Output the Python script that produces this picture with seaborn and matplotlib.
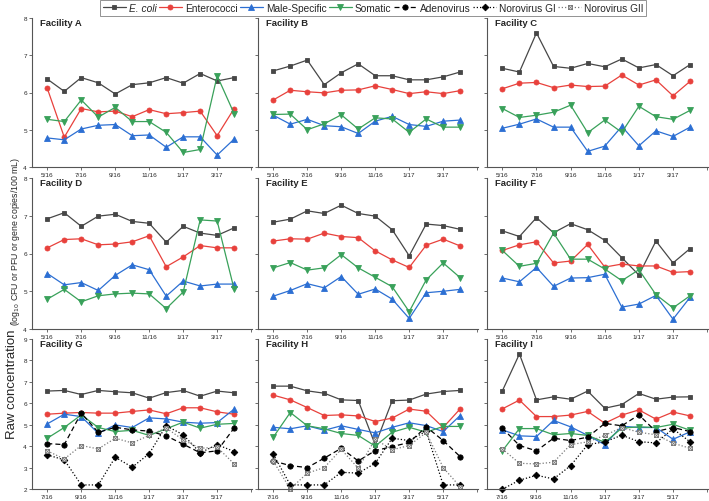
import matplotlib
matplotlib.use("Agg")
import matplotlib.pyplot as plt
import seaborn as sns
import pandas as pd
from matplotlib.path import Path

# ---------------- data ----------------
months_top = ['5/16', '6/16', '7/16', '8/16', '9/16', '10/16', '11/16', '12/16', '1/17', '2/17', '3/17', '4/17']
months_bottom = ['7/16', '8/16', '9/16', '10/16', '11/16', '12/16', '1/17', '2/17', '3/17', '4/17', '5/17', '6/17']
series_names = ['E. coli', 'Enterococci', 'Male-Specific', 'Somatic', 'Adenovirus', 'Norovirus GI', 'Norovirus GII']

# Facility A
A_ecoli = [6.36, 6.03, 6.40, 6.26, 5.96, 6.21, 6.26, 6.40, 6.25, 6.51, 6.31, 6.40]
A_entero = [6.11, 4.80, 5.57, 5.48, 5.50, 5.35, 5.54, 5.43, 5.46, 5.50, 4.84, 5.57]
A_male = [4.78, 4.73, 5.02, 5.12, 5.14, 4.84, 4.86, 4.53, 4.81, 4.81, 4.32, 4.75]
A_somatic = [5.28, 5.22, 5.80, 5.34, 5.60, 5.22, 5.22, 4.93, 4.39, 4.47, 6.45, 5.43]
# Facility B
B_ecoli = [6.58, 6.71, 6.87, 6.21, 6.53, 6.77, 6.45, 6.45, 6.34, 6.34, 6.42, 6.55]
B_entero = [5.80, 6.06, 6.02, 5.99, 6.06, 6.07, 6.18, 6.08, 5.97, 6.02, 5.97, 6.05]
B_male = [5.39, 5.15, 5.28, 5.11, 5.08, 4.90, 5.23, 5.36, 5.14, 5.09, 5.23, 5.26]
B_somatic = [5.41, 5.42, 5.00, 5.16, 5.40, 5.02, 5.32, 5.29, 4.93, 5.29, 5.07, 5.07]
# Facility C
C_ecoli = [6.65, 6.55, 7.60, 6.70, 6.65, 6.78, 6.69, 6.90, 6.66, 6.75, 6.45, 6.75]
C_entero = [6.10, 6.25, 6.27, 6.13, 6.20, 6.16, 6.17, 6.47, 6.20, 6.34, 5.91, 6.30]
C_male = [5.04, 5.15, 5.29, 5.07, 5.07, 4.42, 4.56, 5.09, 4.57, 4.97, 4.82, 5.07]
C_somatic = [5.57, 5.33, 5.39, 5.47, 5.66, 4.92, 5.26, 4.93, 5.63, 5.35, 5.28, 5.52]
# Facility D
D_ecoli = [6.92, 7.08, 6.72, 6.99, 7.04, 6.85, 6.80, 6.30, 6.72, 6.54, 6.48, 6.68]
D_entero = [6.15, 6.37, 6.39, 6.23, 6.25, 6.31, 6.47, 5.65, 5.91, 6.21, 6.15, 6.15]
D_male = [5.47, 5.17, 5.23, 5.02, 5.42, 5.70, 5.57, 4.87, 5.27, 5.14, 5.19, 5.19]
D_somatic = [4.79, 5.05, 4.72, 4.88, 4.93, 4.95, 4.93, 4.54, 4.98, 6.89, 6.86, 5.05]
# Facility E
E_ecoli = [6.83, 6.91, 7.13, 7.06, 7.28, 7.06, 6.99, 6.63, 5.94, 6.78, 6.74, 6.64]
E_entero = [6.33, 6.39, 6.38, 6.54, 6.45, 6.42, 6.07, 5.83, 5.63, 6.22, 6.38, 6.20]
E_male = [4.87, 5.02, 5.20, 5.09, 5.39, 4.92, 5.06, 4.79, 4.28, 4.96, 5.00, 5.05]
E_somatic = [5.62, 5.76, 5.56, 5.62, 5.97, 5.62, 5.37, 5.12, 4.46, 5.30, 5.75, 5.36]
# Facility F
F_ecoli = [6.60, 6.45, 6.95, 6.55, 6.79, 6.63, 6.35, 5.89, 5.43, 6.33, 5.75, 6.13]
F_entero = [6.08, 6.23, 6.31, 5.75, 5.80, 6.24, 5.64, 5.72, 5.67, 5.67, 5.50, 5.52]
F_male = [5.35, 5.25, 5.63, 5.13, 5.35, 5.36, 5.45, 4.58, 4.66, 4.89, 4.26, 4.84]
F_somatic = [6.08, 5.66, 5.74, 6.54, 5.85, 5.85, 5.59, 5.28, 5.57, 4.91, 4.56, 4.88]
# Facility G
G_ecoli = [6.57, 6.60, 6.41, 6.60, 6.54, 6.49, 6.24, 6.50, 6.60, 6.33, 6.57, 6.49]
G_entero = [5.49, 5.54, 5.57, 5.54, 5.54, 5.62, 5.69, 5.51, 5.79, 5.79, 5.60, 5.49]
G_male = [5.04, 5.49, 5.38, 4.60, 4.99, 4.87, 5.32, 5.27, 5.12, 5.07, 5.10, 5.73]
G_somatic = [4.37, 4.87, 5.46, 4.87, 4.68, 4.74, 4.50, 4.81, 5.12, 4.84, 5.02, 5.06]
G_adeno = [4.12, 4.07, 5.55, 4.64, 4.88, 4.76, 4.70, 4.48, 4.09, 3.69, 3.78, 4.85]
G_norogi = [3.59, 3.36, 2.19, 2.19, 3.48, 3.02, 3.65, 4.95, 4.53, 3.69, 4.07, 3.75]
G_norogii = [3.78, 3.40, 4.03, 3.87, 4.37, 4.15, 4.50, 4.85, 4.29, 3.90, 3.95, 3.17]
# Facility H
H_ecoli = [6.80, 6.80, 6.58, 6.47, 6.16, 6.13, 4.06, 6.12, 6.15, 6.43, 6.55, 6.60]
H_entero = [6.38, 6.16, 5.80, 5.43, 5.46, 5.41, 5.15, 5.31, 5.73, 5.63, 4.87, 5.74]
H_male = [4.88, 4.81, 4.95, 4.74, 4.95, 4.78, 4.62, 4.88, 5.09, 4.96, 4.68, 5.43]
H_somatic = [4.42, 5.57, 4.95, 4.81, 4.59, 4.50, 4.00, 4.65, 4.88, 4.65, 4.92, 4.92]
H_adeno = [3.31, 3.09, 3.00, 3.44, 3.90, 3.31, 3.79, 3.98, 4.17, 4.90, 4.26, 3.51]
H_norogi = [3.62, 2.19, 2.19, 2.19, 2.78, 2.74, 3.20, 4.37, 4.26, 4.70, 2.19, 2.19]
H_norogii = [3.30, 2.00, 2.74, 3.00, 3.85, 2.97, 4.32, 3.83, 4.03, 4.64, 3.00, 2.10]
# Facility I
I_ecoli = [6.58, 8.30, 6.16, 6.30, 6.19, 6.57, 5.77, 5.94, 6.46, 6.19, 6.29, 6.30]
I_entero = [5.74, 6.15, 5.38, 5.38, 5.45, 5.62, 5.07, 5.45, 5.69, 5.26, 5.59, 5.41]
I_male = [4.76, 4.48, 4.45, 5.20, 4.90, 4.50, 4.07, 4.93, 4.87, 4.87, 4.32, 4.67]
I_somatic = [3.78, 4.82, 4.82, 4.53, 4.59, 4.50, 4.18, 4.84, 4.90, 4.87, 5.02, 4.74]
I_adeno = [4.84, 4.03, 3.78, 4.37, 4.26, 4.42, 5.06, 4.95, 5.46, 4.68, 4.87, 4.68]
I_norogi = [1.99, 2.41, 2.64, 2.47, 3.09, 4.07, 4.20, 4.51, 4.21, 4.15, 4.81, 4.20]
I_norogii = [3.87, 3.20, 3.17, 3.25, 4.07, 4.20, 4.50, 4.87, 4.65, 4.53, 4.14, 3.90]

facilities = {
    'A': [A_ecoli, A_entero, A_male, A_somatic],
    'B': [B_ecoli, B_entero, B_male, B_somatic],
    'C': [C_ecoli, C_entero, C_male, C_somatic],
    'D': [D_ecoli, D_entero, D_male, D_somatic],
    'E': [E_ecoli, E_entero, E_male, E_somatic],
    'F': [F_ecoli, F_entero, F_male, F_somatic],
    'G': [G_ecoli, G_entero, G_male, G_somatic, G_adeno, G_norogi, G_norogii],
    'H': [H_ecoli, H_entero, H_male, H_somatic, H_adeno, H_norogi, H_norogii],
    'I': [I_ecoli, I_entero, I_male, I_somatic, I_adeno, I_norogi, I_norogii],
}

# ---------------- style ----------------
sns.set_style("ticks")
plt.rcParams['font.family'] = ['Liberation Sans', 'DejaVu Sans']

xsq = Path([(-1, -1), (1, -1), (1, 1), (-1, 1), (-1, -1), (1, 1), (-1, 1), (1, -1)],
           [Path.MOVETO, Path.LINETO, Path.LINETO, Path.LINETO, Path.LINETO,
            Path.MOVETO, Path.MOVETO, Path.LINETO])
xsq = Path([(-1, -1), (1, -1), (1, 1), (-1, 1), (-1, -1), (1, 1), (-1, 1), (1, -1)],
           [Path.MOVETO, Path.LINETO, Path.LINETO, Path.LINETO, Path.LINETO,
            Path.LINETO, Path.MOVETO, Path.LINETO])

styles = {
    'E. coli':       dict(color='#474747', marker='s', ls='-', ms=3.4, mfc='#474747'),
    'Enterococci':   dict(color='#E8413C', marker='o', ls='-', ms=3.6, mfc='#E8413C'),
    'Male-Specific': dict(color='#2C6FD3', marker='^', ls='-', ms=3.8, mfc='#2C6FD3'),
    'Somatic':       dict(color='#39A15A', marker='v', ls='-', ms=3.8, mfc='#39A15A'),
    'Adenovirus':    dict(color='black', marker='o', ls=(0, (4, 2.5)), ms=3.8, mfc='black'),
    'Norovirus GI':  dict(color='black', marker='D', ls=(0, (1, 1.6)), ms=3.4, mfc='black'),
    'Norovirus GII': dict(color='#7a7a7a', marker=xsq, ls=(0, (1, 1.6)), ms=3.0, mfc='white'),
}

W, H = 709, 502
fig = plt.figure(figsize=(W / 100, H / 100), dpi=100)

col_px = [(32, 252), (258, 478), (487, 708)]
row_px = [(19, 168), (179, 330), (340, 490)]
letters = [['A', 'B', 'C'], ['D', 'E', 'F'], ['G', 'H', 'I']]

spine_c = '#555555'
handles_ax = None
for r in range(3):
    for c in range(3):
        x0, x1 = col_px[c]
        y0, y1 = row_px[r]
        ax = fig.add_axes([x0 / W, 1 - y1 / H, (x1 - x0) / W, (y1 - y0) / H])
        key = letters[r][c]
        months = months_bottom if r == 2 else months_top
        xs = list(range(len(months)))
        for name, vals in zip(series_names, facilities[key]):
            st = styles[name]
            df = pd.DataFrame({'month': xs, 'value': vals})
            sns.lineplot(data=df, x='month', y='value', ax=ax, color=st['color'],
                         marker=st['marker'], linestyle=st['ls'], markersize=st['ms'],
                         markerfacecolor=st['mfc'], markeredgecolor=st['color'],
                         markeredgewidth=0.6, linewidth=0.9, label=name,
                         clip_on=False, legend=False)
        if r == 2:
            ax.set_ylim(2, 9)
            ax.set_yticks(range(2, 10))
            handles_ax = ax if key == 'G' else handles_ax
        else:
            ax.set_ylim(4, 8)
            ax.set_yticks(range(4, 9))
        ax.set_xlim(-0.9, 12.05)
        ax.set_xticks(range(0, 13, 2))
        ax.set_xticklabels([months[i] for i in range(0, 12, 2)] + [''])
        if c != 0:
            ax.set_yticklabels([])
        ax.set_xlabel('')
        ax.set_ylabel('')
        for s in ['top', 'right']:
            ax.spines[s].set_visible(False)
        for s in ['left', 'bottom']:
            ax.spines[s].set_color(spine_c)
            ax.spines[s].set_linewidth(0.8)
        ax.tick_params(axis='both', labelsize=4.6, length=2.5, width=0.6,
                       color=spine_c, pad=1.2, direction='out')
        ax.text(0.035, 1.0, f'Facility {key}', transform=ax.transAxes,
                ha='left', va='top', fontsize=6.8, fontweight='bold')

# legend
h, l = handles_ax.get_legend_handles_labels()
leg = fig.legend(h, l, loc='center', bbox_to_anchor=(373 / W, 1 - 9 / H), ncol=7,
                 fontsize=7.3, frameon=True, fancybox=False, handlelength=2.3,
                 handletextpad=0.25, columnspacing=0.25, borderpad=0.25,
                 borderaxespad=0)
leg.get_frame().set_edgecolor('#777777')
leg.get_frame().set_linewidth(0.7)
leg.get_texts()[0].set_fontstyle('italic')

# y label
fig.text(12 / W, 1 - 330 / H, 'Raw concentration', rotation=90, ha='center', va='top',
         fontsize=9.5)
fig.text(15.5 / W, 1 - 326 / H, r'(log$_{10}$ CFU or PFU or gene copies/100 mL)',
         rotation=90, ha='center', va='bottom', fontsize=6.3)

fig.savefig('out.png', dpi=100)
